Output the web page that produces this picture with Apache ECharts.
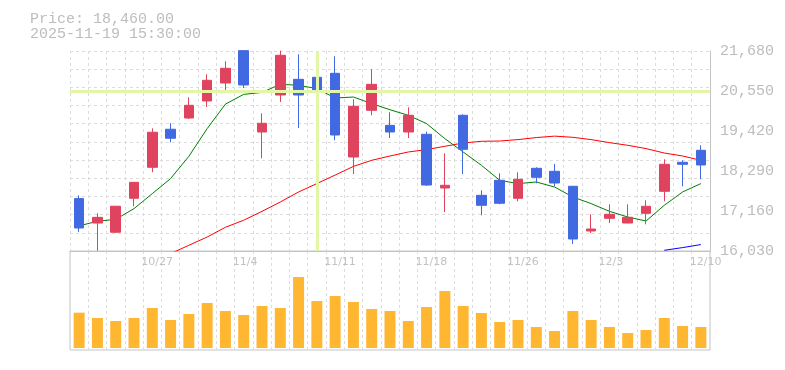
<!DOCTYPE html>
<html>
<head>
<meta charset="utf-8">
<script src="https://cdn.jsdelivr.net/npm/echarts@6/dist/echarts.min.js"></script>
<style>html,body{margin:0;padding:0;background:#fff;}#c{width:785px;height:370px;}</style>
</head>
<body>
<div id="c"></div>
<script>
const priceText = 'Price: 18,460.00';
const timeText = '2025-11-19 15:30:00';
const dates = ['10/21','10/22','10/23','10/24','10/27','10/28','10/29','10/30','10/31','11/4','11/5','11/6','11/7','11/10','11/11','11/12','11/13','11/14','11/17','11/18','11/19','11/20','11/21','11/25','11/26','11/27','11/28','12/1','12/2','12/3','12/4','12/5','12/8','12/9','12/10'];
const xTickLabels = ['10/27','11/4','11/11','11/18','11/26','12/3','12/10'];
const yTickValues = [16030, 17160, 18290, 19420, 20550, 21680];
const openP  = [17510,16820,16560,17520,18395,19470,19787,20268,20776,21690,19392,20437,20880,20937,21050,18685,20005,19580,19392,19327,17810,19864,17603,18027,17519,18366,18282,17858,16595,16954,16821,17095,17717,18536,18875];
const closeP = [16680,16980,17295,17970,19385,19215,20146,20852,21191,20720,19638,21559,20437,20522,19307,20118,20739,19392,19864,17894,17886,18903,17321,17378,18056,18112,17951,16369,16651,17067,16982,17293,18479,18479,18460];
const lowP   = [16570,16040,16540,17295,18255,19100,19760,20098,20513,20635,18650,20240,19505,20287,19157,18205,19864,19222,19222,17866,17132,18205,17039,17350,17434,17943,17858,16228,16538,16821,16815,16784,17434,17858,18056];
const highP  = [17600,17095,17300,17980,19495,19640,20372,21022,21390,21700,19920,21690,21587,21333,21530,20316,21163,19948,20090,19403,18790,19892,17745,18225,18253,18395,18488,17870,17067,17349,17349,17462,18620,18592,19016];
const maShort = [16742,16869,16925,17227,17651,18075,18705,19487,20180,20455,20510,20740,20711,20618,20352,20380,20194,20020,19864,19629,19205,18827,18451,18027,17934,17979,17838,17556,17369,17152,16990,16877,17321,17697,17934];
const maMid = ['-','-','-','-','-',15957,16191,16425,16700,16900,17150,17414,17697,17934,18175,18420,18592,18714,18827,18895,18988,19081,19129,19137,19177,19234,19275,19242,19177,19092,19016,18923,18798,18714,18592];
const maLong = ['-','-','-','-','-','-','-','-','-','-','-','-','-','-','-','-','-','-','-','-','-','-','-','-','-','-','-','-','-','-','-','-',16050,16126,16211];
const volume = [106,90,81,90,120,84,102,135,111,99,126,120,213,141,156,138,117,111,81,123,171,126,105,78,84,63,51,111,84,63,45,54,90,66,63];
const crossDate = '11/10';
const crossPrice = 20540;

const UP = '#e0435e', DOWN = '#4169e1';
const grayAxis = '#c4c4c4', gridCol = '#dcdcdc';
const chart = echarts.init(document.getElementById('c'), null, {renderer: 'canvas'});
chart.setOption({
  animation: false,
  backgroundColor: '#fff',
  title: {
    left: 30, top: 12, padding: 0,
    text: priceText + '\n' + timeText,
    textStyle: {fontFamily: 'Liberation Mono', fontSize: 15, fontWeight: 'normal', color: '#bdbdbd', lineHeight: 15}
  },
  grid: [
    {left: 70, right: 75, top: 51, height: 200},
    {left: 70, right: 75, top: 251, height: 99, show: true, borderColor: grayAxis, borderWidth: 1, backgroundColor: 'transparent'}
  ],
  xAxis: [
    {gridIndex: 0, type: 'category', data: dates, boundaryGap: true,
     axisLine: {show: true, lineStyle: {color: grayAxis}}, axisTick: {show: false},
     axisLabel: {interval: (i, v) => xTickLabels.includes(v), margin: 6, align: 'left', padding: [0, 0, 0, -11],
                 color: '#c2c2c2', fontFamily: 'DejaVu Sans', fontSize: 11},
     splitLine: {show: true, interval: 0, lineStyle: {color: gridCol, type: [3, 3]}}},
    {gridIndex: 1, type: 'category', data: dates, boundaryGap: true,
     axisLine: {show: false}, axisTick: {show: false}, axisLabel: {show: false},
     splitLine: {show: true, interval: 0, lineStyle: {color: gridCol, type: [3, 3]}}}
  ],
  yAxis: [
    {gridIndex: 0, type: 'value', position: 'right', min: 16030, max: 21680,
     axisLine: {show: true, lineStyle: {color: grayAxis}}, axisTick: {show: false}, splitLine: {show: false},
     axisLabel: {customValues: yTickValues, margin: 10, color: '#bdbdbd', fontFamily: 'Liberation Mono', fontSize: 15,
                 formatter: v => Number(v).toLocaleString('en-US')}},
    {gridIndex: 0, type: 'value', position: 'right', min: 0, max: 11, interval: 1,
     axisLine: {show: false}, axisTick: {show: false}, axisLabel: {show: false},
     splitLine: {show: true, lineStyle: {color: gridCol, type: [3, 3]}}},
    {gridIndex: 1, type: 'value', min: -6, max: 291, show: false}
  ],
  series: [
    {type: 'line', name: 'cross', xAxisIndex: 0, yAxisIndex: 0, data: maLong, z: 1, showSymbol: false, silent: true,
     lineStyle: {color: '#0000ff', width: 1},
     markLine: {symbol: ['none', 'none'], silent: true, label: {show: false},
                lineStyle: {color: '#e3f5a6', width: 3, type: 'solid'},
                data: [{yAxis: crossPrice}, {xAxis: crossDate}]}},
    {type: 'line', name: 'ma25', xAxisIndex: 0, yAxisIndex: 0, data: maMid, z: 2, showSymbol: false,
     lineStyle: {color: '#ff0000', width: 1}},
    {type: 'line', name: 'ma5', xAxisIndex: 0, yAxisIndex: 0, data: maShort, z: 2, showSymbol: false,
     lineStyle: {color: '#008000', width: 1}},
    {type: 'candlestick', xAxisIndex: 0, yAxisIndex: 0, z: 3, barWidth: 10,
     data: dates.map((d, i) => [openP[i], closeP[i], lowP[i], highP[i]]),
     itemStyle: {color: UP, color0: DOWN, borderColor: UP, borderColor0: DOWN, borderWidth: 1}},
    {type: 'bar', xAxisIndex: 1, yAxisIndex: 2, data: volume, barWidth: 11,
     itemStyle: {color: '#ffb732'}}
  ]
});
</script>
</body>
</html>
